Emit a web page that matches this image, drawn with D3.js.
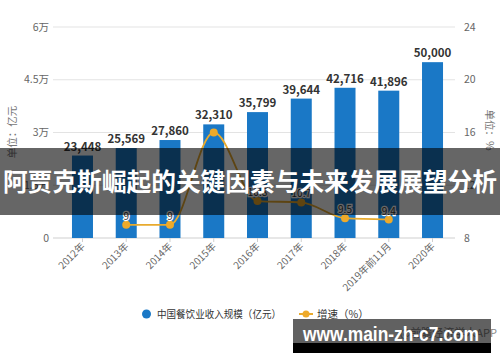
<!DOCTYPE html>
<html><head><meta charset="utf-8">
<script src="https://cdn.jsdelivr.net/npm/d3@7/dist/d3.min.js"></script>
<style>
html,body{margin:0;padding:0;background:#fff;}
svg{display:block;font-family:"Noto Sans CJK SC","Noto Sans",sans-serif;}
</style></head>
<body><svg id="c" width="500" height="362"></svg>
<script>
const categories = ["2012年","2013年","2014年","2015年","2016年","2017年","2018年","2019年前11月","2020年"];
const revenue = [23448,25569,27860,32310,35799,39644,42716,41896,50000];
const growth = [null,9,9,16,10.8,10.7,9.5,9.4,null];
const growthLabels = [null,"9","9",null,"10.8","10.7","9.5","9.4",null];
const leftTicks = [0,15000,30000,45000,60000];
const leftTickLabels = ["0","1.5万","3万","4.5万","6万"];
const rightTicks = [8,12,16,20,24];
const overlayTitle = "阿贾克斯崛起的关键因素与未来发展展望分析";
const siteText = "www.main-zh-c7.com";

const svg = d3.select("#c");
const plotTop = 27, plotBottom = 238, gl = 53, gr = 455;
const x = d3.scaleBand().domain(categories).range([60.6, 454.4]).paddingInner(0.52).paddingOuter(0.26);
const yL = d3.scaleLinear().domain([0,60000]).range([plotBottom, plotTop]);
const yR = d3.scaleLinear().domain([8,24]).range([plotBottom, plotTop]);
const cx = d => x(d) + x.bandwidth()/2;

// gridlines
svg.append("g").selectAll("line").data(leftTicks.slice(1)).join("line")
  .attr("x1", gl).attr("x2", gr).attr("y1", d=>yL(d)).attr("y2", d=>yL(d))
  .attr("stroke","#e3e3e3").attr("stroke-width",1);
// axis line
svg.append("line").attr("x1",gl).attr("x2",gr).attr("y1",yL(0)).attr("y2",yL(0)).attr("stroke","#cfcfcf");

// left tick labels
svg.append("g").selectAll("text").data(leftTicks).join("text")
  .attr("x",49).attr("y",d=>yL(d)+3.5).attr("text-anchor","end")
  .attr("font-size",10.5).attr("fill","#666").text((d,i)=>leftTickLabels[i]);
// right tick labels
svg.append("g").selectAll("text").data(rightTicks).join("text")
  .attr("x",464).attr("y",d=>yR(d)+3.5).attr("text-anchor","start")
  .attr("font-size",10.5).attr("fill","#666").text(d=>d);

// axis titles
svg.append("text").attr("transform","translate(16,132) rotate(-90)").attr("text-anchor","middle")
  .attr("font-size",10.5).attr("fill","#777").text("单位：亿元");
svg.append("text").attr("transform","translate(486,130) rotate(90)").attr("text-anchor","middle")
  .attr("font-size",10.5).attr("fill","#777").text("单位：%");

// x ticks and labels
svg.append("g").selectAll("line").data(categories).join("line")
  .attr("x1",d=>cx(d)).attr("x2",d=>cx(d)).attr("y1",plotBottom).attr("y2",plotBottom+4).attr("stroke","#cfcfcf");
svg.append("g").selectAll("text").data(categories).join("text")
  .attr("transform",d=>`translate(${cx(d)+3},${plotBottom+9}) rotate(-45)`)
  .attr("text-anchor","end").attr("font-size",10).attr("fill","#666").text(d=>d);

// bars
svg.append("g").selectAll("rect").data(revenue).join("rect")
  .attr("x",(d,i)=>x(categories[i])).attr("width",x.bandwidth())
  .attr("y",d=>yL(d)).attr("height",d=>yL(0)-yL(d)).attr("fill","#1a78c6");
svg.append("g").selectAll("text").data(revenue).join("text")
  .attr("x",(d,i)=>cx(categories[i])).attr("y",d=>yL(d)-5).attr("text-anchor","middle")
  .attr("font-size",11.5).attr("font-weight","bold").attr("fill","#333").text(d=>d3.format(",")(d));

// line
const pts = growth.map((v,i)=>({v, c:categories[i], l:growthLabels[i]})).filter(p=>p.v!==null);
svg.append("path").datum(pts)
  .attr("d", d3.line().x(p=>cx(p.c)).y(p=>yR(p.v)).curve(d3.curveMonotoneX))
  .attr("fill","none").attr("stroke","#e8aa2e").attr("stroke-width",1.8);
svg.append("g").selectAll("circle").data(pts).join("circle")
  .attr("cx",p=>cx(p.c)).attr("cy",p=>yR(p.v)).attr("r",4).attr("fill","#eeaa2a");
svg.append("g").selectAll("text").data(pts.filter(p=>p.l)).join("text")
  .attr("x",p=>cx(p.c)).attr("y",p=>yR(p.v)-5).attr("text-anchor","middle")
  .attr("font-size",10).attr("fill","#333").attr("stroke","#fff").attr("stroke-width",2.5)
  .attr("paint-order","stroke").text(p=>p.l);

// legend
svg.append("circle").attr("cx",146.5).attr("cy",314).attr("r",4.5).attr("fill","#1a78c6");
svg.append("text").attr("x",157).attr("y",318).attr("font-size",10.5).attr("fill","#333")
  .attr("textLength",124).attr("lengthAdjust","spacingAndGlyphs").text("中国餐饮业收入规模（亿元）");
svg.append("line").attr("x1",299).attr("x2",313).attr("y1",314).attr("y2",314).attr("stroke","#e8aa2e").attr("stroke-width",2);
svg.append("circle").attr("cx",306).attr("cy",314).attr("r",3.5).attr("fill","#eeaa2a");
svg.append("text").attr("x",317).attr("y",318).attr("font-size",10.5).attr("fill","#333").text("增速（%）");

// faint source text
svg.append("text").attr("x",497).attr("y",337).attr("text-anchor","end").attr("font-size",11).attr("fill","#888").text("@前瞻经济学人APP");

// overlay title band
svg.append("rect").attr("x",0).attr("y",148).attr("width",500).attr("height",67).attr("fill","rgba(0,0,0,0.6)");
svg.append("text").attr("x",250).attr("y",191).attr("text-anchor","middle").attr("font-size",24.5)
  .attr("font-weight","bold").attr("fill","#fff").attr("textLength",494).attr("lengthAdjust","spacingAndGlyphs").text(overlayTitle);

// site watermark box
svg.append("rect").attr("x",293).attr("y",319).attr("width",198).attr("height",25).attr("fill","rgba(0,0,0,0.62)");
svg.append("rect").attr("x",293).attr("y",343).attr("width",198).attr("height",10).attr("fill","#000");
svg.append("text").attr("x",303).attr("y",341).attr("font-size",20).attr("font-weight","bold")
  .attr("font-family","'Liberation Sans',Arial,sans-serif").attr("fill","#fff")
  .attr("textLength",176).attr("lengthAdjust","spacingAndGlyphs").text(siteText);
</script></body></html>
